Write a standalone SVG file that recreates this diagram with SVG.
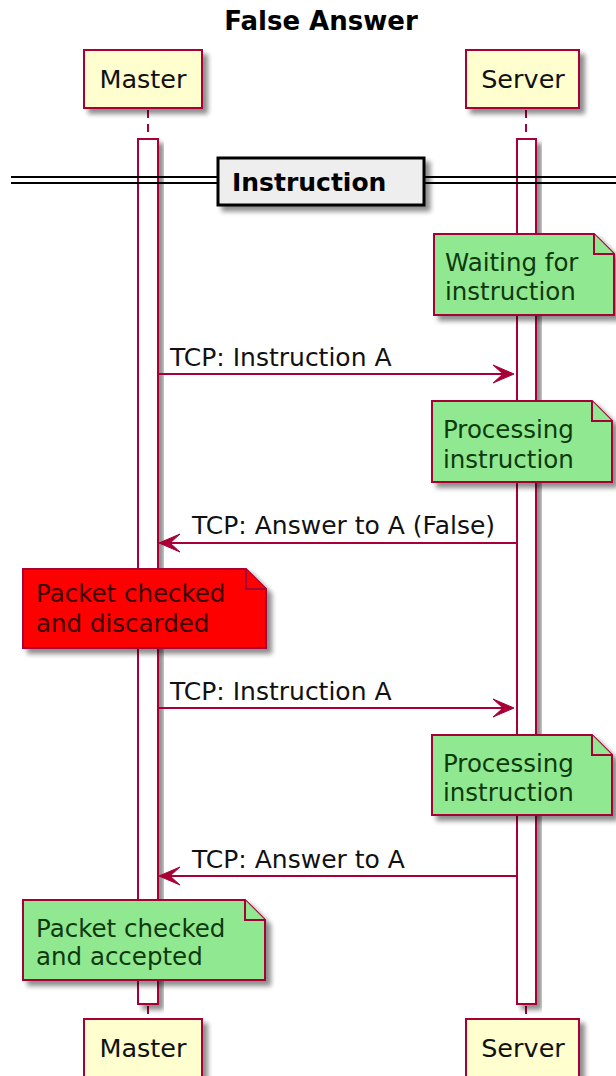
<svg xmlns="http://www.w3.org/2000/svg" width="616" height="1076" viewBox="0 0 616 1076">
<style>
text{font-family:"DejaVu Sans","Liberation Sans",sans-serif;}
.title{font-size:26px;font-weight:bold;fill:#000;}
.part rect{fill:#FEFECE;stroke:#A80036;stroke-width:2;}
.part text{font-size:25.5px;fill:#111;text-anchor:middle;}
.bar{fill:#FFFFFF;stroke:#A80036;stroke-width:2;}
.life{stroke:#A80036;stroke-width:2;stroke-dasharray:8,6;fill:none;}
.note path{stroke:#A80036;stroke-width:2;}
.green path{fill:#90E890;}
.red path{fill:#FF0000;}
.note text{font-size:24.5px;}
.green text{fill:#0E3A0E;}
.red text{fill:#3A0000;}
.msg line{stroke:#A80036;stroke-width:2;}
.msg polygon{fill:#A80036;stroke:#A80036;stroke-width:1;}
.msg text{font-size:25px;fill:#111;}
.div line{stroke:#000;stroke-width:2;}
.div rect{fill:#EEEEEE;stroke:#000;stroke-width:3;}
.div text{font-size:25px;font-weight:bold;fill:#000;}
</style>
<defs>
<filter id="sh" x="-20%" y="-20%" width="150%" height="150%">
<feGaussianBlur in="SourceAlpha" stdDeviation="2.5"/>
<feOffset dx="5" dy="5" result="b"/>
<feComponentTransfer><feFuncA type="linear" slope="0.45"/></feComponentTransfer>
<feMerge><feMergeNode/><feMergeNode in="SourceGraphic"/></feMerge>
</filter>
</defs>
<rect width="616" height="1076" fill="#FFFFFF"/>
<text class="title" x="321" y="30" text-anchor="middle">False Answer</text>

<g id="lifelines">
<line class="life" x1="148" y1="110" x2="148" y2="1016"/>
<line class="life" x1="526" y1="110" x2="526" y2="1016"/>
<rect class="bar" x="138" y="139" width="20" height="865" filter="url(#sh)"/>
<rect class="bar" x="517" y="139" width="19" height="865" filter="url(#sh)"/>
</g>

<g id="master-top" class="part"><rect x="84" y="50" width="118" height="58" filter="url(#sh)"/><text x="143" y="88">Master</text></g>
<g id="server-top" class="part"><rect x="466" y="50" width="113" height="58" filter="url(#sh)"/><text x="523" y="88">Server</text></g>
<g id="master-bottom" class="part"><rect x="84" y="1019" width="118" height="58" filter="url(#sh)"/><text x="143" y="1057">Master</text></g>
<g id="server-bottom" class="part"><rect x="466" y="1019" width="113" height="58" filter="url(#sh)"/><text x="523" y="1057">Server</text></g>

<g id="divider" class="div">
<line x1="11" y1="177" x2="218" y2="177"/><line x1="11" y1="183" x2="218" y2="183"/>
<line x1="424" y1="177" x2="616" y2="177"/><line x1="424" y1="183" x2="616" y2="183"/>
<rect x="218" y="158" width="206" height="47" filter="url(#sh)"/>
<text x="232" y="191">Instruction</text>
</g>

<g id="note-waiting" class="note green">
<path d="M434,234 H594 L614,254 V315 H434 Z" filter="url(#sh)"/>
<path d="M594,234 V254 H614" fill="none"/>
<text x="445" y="271">Waiting for</text><text x="445" y="300">instruction</text>
</g>

<g id="note-processing-1" class="note green">
<path d="M432,401 H592 L612,421 V482 H432 Z" filter="url(#sh)"/>
<path d="M592,401 V421 H612" fill="none"/>
<text x="443" y="438">Processing</text><text x="443" y="468">instruction</text>
</g>

<g id="note-discarded" class="note red">
<path d="M23,569 H246 L266,589 V648 H23 Z" filter="url(#sh)"/>
<path d="M246,569 V589 H266" fill="none"/>
<text x="36" y="602">Packet checked</text><text x="36" y="632">and discarded</text>
</g>

<g id="note-processing-2" class="note green">
<path d="M432,735 H592 L612,755 V815 H432 Z" filter="url(#sh)"/>
<path d="M592,735 V755 H612" fill="none"/>
<text x="443" y="772">Processing</text><text x="443" y="801">instruction</text>
</g>

<g id="note-accepted" class="note green">
<path d="M23,900 H245 L265,920 V980 H23 Z" filter="url(#sh)"/>
<path d="M245,900 V920 H265" fill="none"/>
<text x="36" y="937">Packet checked</text><text x="36" y="965">and accepted</text>
</g>

<g id="connectors">
<g class="msg">
<line x1="159" y1="374" x2="512" y2="374"/>
<polygon points="514,374 493,365 503,374 493,383"/>
<text x="170" y="366">TCP: Instruction A</text>
</g>
<g class="msg">
<line x1="161" y1="543" x2="516" y2="543"/>
<polygon points="159,543 180,534 170,543 180,552"/>
<text x="192" y="534">TCP: Answer to A (False)</text>
</g>
<g class="msg">
<line x1="159" y1="708" x2="512" y2="708"/>
<polygon points="514,708 493,699 503,708 493,717"/>
<text x="170" y="700">TCP: Instruction A</text>
</g>
<g class="msg">
<line x1="161" y1="876" x2="516" y2="876"/>
<polygon points="159,876 180,867 170,876 180,885"/>
<text x="192" y="868">TCP: Answer to A</text>
</g>
</g>
</svg>
